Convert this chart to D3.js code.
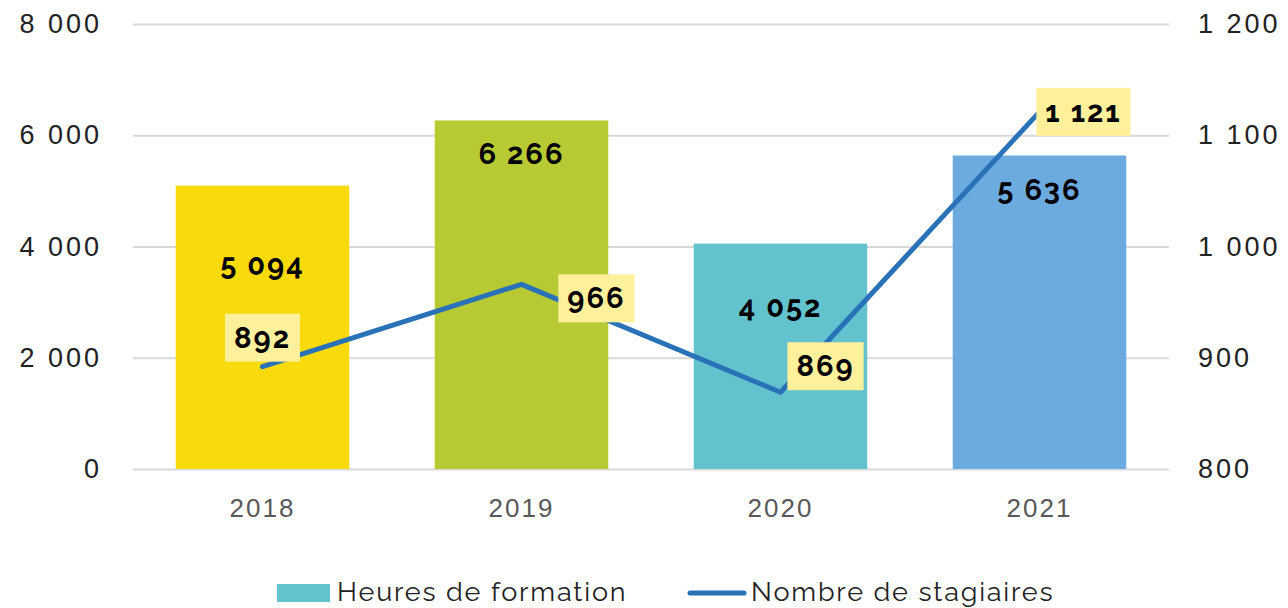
<!DOCTYPE html>
<html>
<head>
<meta charset="utf-8">
<script src="https://cdn.jsdelivr.net/npm/d3@7"></script>
<style>
  body { margin: 0; background: #fff; }
  svg { display: block; font-family: Raleway, Lato, sans-serif; }
</style>
</head>
<body>
<div id="chart"></div>
<script>
"use strict";

// data
var years = ["2018", "2019", "2020", "2021"];
var heures = [5094, 6266, 4052, 5636];
var stagiaires = [892, 966, 869, 1121];
var barColors = ["#F9DA0A", "#B8CA33", "#62C2CD", "#6CABE0"];
var leftTicks = [0, 2000, 4000, 6000, 8000];
var rightTicks = [800, 900, 1000, 1100, 1200];

// layout only: where each label sits relative to its mark
var barLabelDy = [79, 34, 63, 35];
var lineLabelOff = [[0, -29], [75, 14], [45, -26], [44, 0]];

var width = 1288, height = 608;
var fmt = function(v) { return d3.format(",")(v).replace(/,/g, " "); };

var svg = d3.select('#chart').append('svg')
  .attr('width', width)
  .attr('height', height);

var x = d3.scaleBand().domain(years).range([133, 1169])
  .paddingInner(0.33).paddingOuter(0.165);
var yL = d3.scaleLinear().domain([0, 8000]).range([469, 24]);
var yR = d3.scaleLinear().domain([800, 1200]).range([469, 24]);

// grid + left axis
var gL = svg.append('g').attr('transform', 'translate(133,0)')
  .call(d3.axisLeft(yL).tickValues(leftTicks).tickSize(-1036).tickPadding(31).tickFormat(fmt));
gL.select('.domain').remove();
gL.selectAll('line').attr('stroke', '#d9d9d9').attr('stroke-width', 2);
gL.selectAll('text').attr('fill', '#222').style('font-size', '27px').style('letter-spacing', '3px');

var gR = svg.append('g').attr('transform', 'translate(1169,0)')
  .call(d3.axisRight(yR).tickValues(rightTicks).tickSize(0).tickPadding(29).tickFormat(fmt));
gR.select('.domain').remove();
gR.selectAll('text').attr('fill', '#222').style('font-size', '27px').style('letter-spacing', '3px');

var gX = svg.append('g').attr('transform', 'translate(0,469)')
  .call(d3.axisBottom(x).tickSize(0).tickPadding(30));
gX.select('.domain').remove();
gX.selectAll('text').attr('fill', '#595959').style('font-size', '26px').style('letter-spacing', '2px');

// bars
svg.selectAll('.bar').data(heures).enter().append('rect')
  .attr('class', 'bar')
  .attr('x', function(d, i) { return x(years[i]); })
  .attr('y', function(d) { return yL(d); })
  .attr('width', x.bandwidth())
  .attr('height', function(d) { return yL(0) - yL(d); })
  .attr('fill', function(d, i) { return barColors[i]; });

svg.selectAll('.barlabel').data(heures).enter().append('text')
  .attr('class', 'barlabel')
  .attr('x', function(d, i) { return x(years[i]) + x.bandwidth() / 2; })
  .attr('y', function(d, i) { return yL(d) + barLabelDy[i]; })
  .attr('text-anchor', 'middle')
  .attr('dominant-baseline', 'central')
  .style('font-size', '29px').style('font-weight', 'bold').style('letter-spacing', '2px')
  .attr('fill', '#000')
  .text(fmt);

// line
var cx = function(i) { return x(years[i]) + x.bandwidth() / 2; };
var line = d3.line()
  .x(function(d, i) { return cx(i); })
  .y(function(d) { return yR(d); });

svg.append('path')
  .datum(stagiaires)
  .attr('d', line)
  .attr('fill', 'none')
  .attr('stroke', '#2A72B8')
  .attr('stroke-width', 5)
  .attr('stroke-linejoin', 'round')
  .attr('stroke-linecap', 'round');

var lbl = svg.selectAll('.linelabel').data(stagiaires).enter().append('g')
  .attr('class', 'linelabel')
  .attr('transform', function(d, i) {
    return 'translate(' + (cx(i) + lineLabelOff[i][0]) + ',' + (yR(d) + lineLabelOff[i][1]) + ')';
  });
lbl.append('rect').attr('fill', '#FFF09C');
lbl.append('text')
  .attr('text-anchor', 'middle')
  .attr('dominant-baseline', 'central')
  .style('font-size', '29px').style('font-weight', 'bold').style('letter-spacing', '2px')
  .attr('fill', '#000')
  .text(fmt);
lbl.each(function() {
  var g = d3.select(this);
  var bb = g.select('text').node().getBBox();
  var w = bb.width + 18, h = 48;
  g.select('rect').attr('x', -w / 2).attr('y', -h / 2).attr('width', w).attr('height', h);
});

// legend
var leg = svg.append('g').attr('transform', 'translate(0,591)');
leg.append('rect').attr('x', 277).attr('y', -7).attr('width', 53).attr('height', 18).attr('fill', '#62C2CD');
leg.append('text').attr('x', 337).attr('y', 0).attr('dominant-baseline', 'central')
  .style('font-size', '27px').style('letter-spacing', '1.8px').attr('fill', '#222')
  .text('Heures de formation');
leg.append('line').attr('x1', 690).attr('x2', 744).attr('y1', 2).attr('y2', 2)
  .attr('stroke', '#2A72B8').attr('stroke-width', 5).attr('stroke-linecap', 'round');
leg.append('text').attr('x', 751).attr('y', 0).attr('dominant-baseline', 'central')
  .style('font-size', '27px').style('letter-spacing', '1.8px').attr('fill', '#222')
  .text('Nombre de stagiaires');
</script>
</body>
</html>
